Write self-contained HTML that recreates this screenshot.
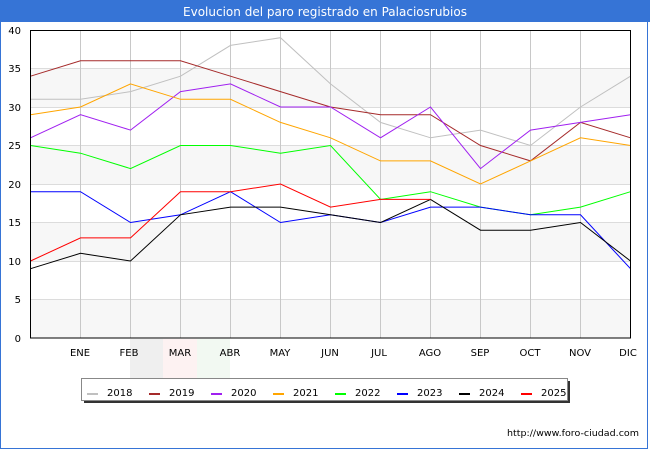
<!DOCTYPE html>
<html><head><meta charset="utf-8"><style>
html,body{margin:0;padding:0;background:#fff;}
svg{display:block;}
text{font-family:"DejaVu Sans","Liberation Sans",sans-serif;}
</style></head><body>
<svg width="650" height="450" viewBox="0 0 650 450" xmlns="http://www.w3.org/2000/svg">
<rect x="0" y="0" width="650" height="450" fill="#fff"/>
<!-- outer frame -->
<rect x="0.5" y="0.5" width="647" height="448" fill="none" stroke="#3674d6" stroke-width="1"/>
<!-- title bar -->
<rect x="0" y="0" width="650" height="22" fill="#3674d6"/>
<text x="325" y="16" fill="#fff" font-size="12" text-anchor="middle" textLength="284" lengthAdjust="spacingAndGlyphs">Evolucion del paro registrado en Palaciosrubios</text>

<!-- watermark -->
<rect x="130" y="339" width="33" height="39" fill="#efefef"/>
<rect x="163" y="339" width="34" height="39" fill="#fdf2f2"/>
<rect x="197" y="339" width="33" height="39" fill="#f2f9f2"/>

<!-- bands -->
<rect x="30" y="68.5" width="600" height="38.5" fill="#f7f7f7"/>
<rect x="30" y="145.5" width="600" height="38.5" fill="#f7f7f7"/>
<rect x="30" y="222.5" width="600" height="38.5" fill="#f7f7f7"/>
<rect x="30" y="299.5" width="600" height="38.5" fill="#f7f7f7"/>

<!-- horizontal grid -->
<g stroke="#dcdcdc" stroke-width="1">
<line x1="30" y1="68.5" x2="630" y2="68.5"/>
<line x1="30" y1="107.5" x2="630" y2="107.5"/>
<line x1="30" y1="145.5" x2="630" y2="145.5"/>
<line x1="30" y1="184.5" x2="630" y2="184.5"/>
<line x1="30" y1="222.5" x2="630" y2="222.5"/>
<line x1="30" y1="261.5" x2="630" y2="261.5"/>
<line x1="30" y1="299.5" x2="630" y2="299.5"/>
</g>
<!-- vertical grid -->
<g stroke="#c8c8c8" stroke-width="1">
<line x1="80.5" y1="30" x2="80.5" y2="338"/>
<line x1="130.5" y1="30" x2="130.5" y2="338"/>
<line x1="180.5" y1="30" x2="180.5" y2="338"/>
<line x1="230.5" y1="30" x2="230.5" y2="338"/>
<line x1="280.5" y1="30" x2="280.5" y2="338"/>
<line x1="330.5" y1="30" x2="330.5" y2="338"/>
<line x1="380.5" y1="30" x2="380.5" y2="338"/>
<line x1="430.5" y1="30" x2="430.5" y2="338"/>
<line x1="480.5" y1="30" x2="480.5" y2="338"/>
<line x1="530.5" y1="30" x2="530.5" y2="338"/>
<line x1="580.5" y1="30" x2="580.5" y2="338"/>
</g>

<!-- series -->
<g fill="none" stroke-width="1" stroke-linejoin="miter" transform="translate(0.5,338) scale(1,-7.7)">
<polyline vector-effect="non-scaling-stroke" stroke="#c0c0c0" points="30,31 80,31 130,32 180,34 230,38 280,39 330,33 380,28 430,26 480,27 530,25 580,30 630,34"/>
<polyline vector-effect="non-scaling-stroke" stroke="#a52a2a" points="30,34 80,36 130,36 180,36 230,34 280,32 330,30 380,29 430,29 480,25 530,23 580,28 630,26"/>
<polyline vector-effect="non-scaling-stroke" stroke="#a020f0" points="30,26 80,29 130,27 180,32 230,33 280,30 330,30 380,26 430,30 480,22 530,27 580,28 630,29"/>
<polyline vector-effect="non-scaling-stroke" stroke="#ffa500" points="30,29 80,30 130,33 180,31 230,31 280,28 330,26 380,23 430,23 480,20 530,23 580,26 630,25"/>
<polyline vector-effect="non-scaling-stroke" stroke="#00ff00" points="30,25 80,24 130,22 180,25 230,25 280,24 330,25 380,18 430,19 480,17 530,16 580,17 630,19"/>
<polyline vector-effect="non-scaling-stroke" stroke="#0000ff" points="30,19 80,19 130,15 180,16 230,19 280,15 330,16 380,15 430,17 480,17 530,16 580,16 630,9"/>
<polyline vector-effect="non-scaling-stroke" stroke="#000000" points="30,9 80,11 130,10 180,16 230,17 280,17 330,16 380,15 430,18 480,14 530,14 580,15 630,10"/>
<polyline vector-effect="non-scaling-stroke" stroke="#ff0000" points="30,10 80,13 130,13 180,19 230,19 280,20 330,17 380,18 430,18"/>
</g>

<!-- plot frame -->
<rect x="30.5" y="30.5" width="600" height="307.5" fill="none" stroke="#000" stroke-width="1"/>

<!-- y labels -->
<g font-size="10" fill="#000" text-anchor="end">
<text x="21" y="34">40</text>
<text x="21" y="72">35</text>
<text x="21" y="111">30</text>
<text x="21" y="149">25</text>
<text x="21" y="188">20</text>
<text x="21" y="226">15</text>
<text x="21" y="265">10</text>
<text x="21" y="303">5</text>
<text x="21" y="342">0</text>
</g>
<!-- x labels -->
<g font-size="10" fill="#000" text-anchor="middle">
<text x="80" y="356">ENE</text>
<text x="129" y="356">FEB</text>
<text x="180" y="356">MAR</text>
<text x="230" y="356">ABR</text>
<text x="280" y="356">MAY</text>
<text x="330" y="356">JUN</text>
<text x="379" y="356">JUL</text>
<text x="430" y="356">AGO</text>
<text x="480" y="356">SEP</text>
<text x="530" y="356">OCT</text>
<text x="580" y="356">NOV</text>
<text x="628" y="356">DIC</text>
</g>

<!-- legend -->
<rect x="84" y="381" width="486" height="22" fill="#333"/>
<rect x="81.5" y="378.5" width="486" height="22" fill="#fff" stroke="#888" stroke-width="1"/>
<g stroke-width="2">
<line x1="87" y1="394" x2="98" y2="394" stroke="#c0c0c0"/>
<line x1="149" y1="394" x2="160" y2="394" stroke="#a52a2a"/>
<line x1="211" y1="394" x2="222" y2="394" stroke="#a020f0"/>
<line x1="273" y1="394" x2="284" y2="394" stroke="#ffa500"/>
<line x1="335" y1="394" x2="346" y2="394" stroke="#00ff00"/>
<line x1="397" y1="394" x2="408" y2="394" stroke="#0000ff"/>
<line x1="459" y1="394" x2="470" y2="394" stroke="#000000"/>
<line x1="521" y1="394" x2="532" y2="394" stroke="#ff0000"/>
</g>
<g font-size="10" fill="#000">
<text x="107" y="396">2018</text>
<text x="169" y="396">2019</text>
<text x="231" y="396">2020</text>
<text x="293" y="396">2021</text>
<text x="355" y="396">2022</text>
<text x="417" y="396">2023</text>
<text x="479" y="396">2024</text>
<text x="541" y="396">2025</text>
</g>

<!-- footer -->
<text x="507" y="436" font-size="9" fill="#000" textLength="132" lengthAdjust="spacingAndGlyphs">http://www.foro-ciudad.com</text>
</svg>
</body></html>
